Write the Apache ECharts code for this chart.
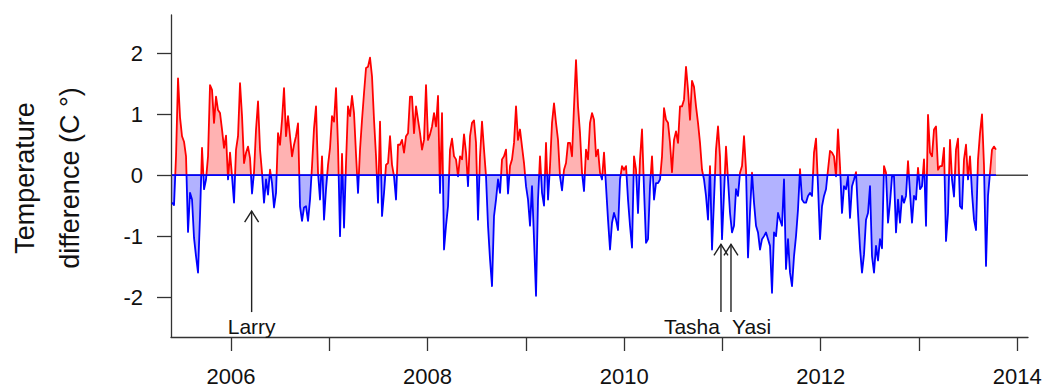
<!DOCTYPE html>
<html>
<head>
<meta charset="utf-8">
<script src="https://cdn.jsdelivr.net/npm/echarts@6/dist/echarts.min.js"></script>
<style>
html,body{margin:0;padding:0;background:#ffffff;}
#chart{width:1045px;height:387px;}
</style>
</head>
<body>
<div id="chart"></div>
<script>
// ---- data ----
// regularly sampled series: first sample time (decimal year) and sampling interval (years)
const sampleStart = 2005.400;
const sampleStep = 0.020348;

// temperature difference (C) at each sample
const anomaly = [
  // 2005.4 - 2006.7
  -0.45,-0.49,0.31,1.59,0.95,0.64,0.55,0.31,-0.93,-0.29,
  -0.40,-1.03,-1.33,-1.60,-0.67,0.45,-0.23,-0.07,0.31,1.48,
  1.40,0.86,1.29,1.07,1.02,0.75,0.45,0.65,-0.07,0.37,
  -0.02,-0.45,0.42,0.64,1.51,0.97,0.20,0.37,0.47,0.28,
  -0.30,0.05,0.75,1.21,0.42,0.04,-0.45,-0.07,-0.32,0.09,
  -0.13,-0.53,-0.29,0.69,0.50,0.91,1.43,0.64,0.97,0.64,
  0.31,0.50,0.64,0.85,
  // 2006.7 - 2008.1
  -0.51,-0.75,-0.53,-0.51,-0.75,-0.40,0.15,0.77,1.13,0.04,
  -0.40,0.31,-0.73,-0.23,0.17,0.45,0.97,0.88,1.43,0.47,
  -1.00,0.35,-0.86,0.20,1.13,0.97,1.30,1.02,0.34,-0.29,
  0.42,0.91,1.35,1.76,1.78,1.93,1.62,0.91,0.31,-0.45,
  0.88,-0.67,-0.29,0.17,0.20,0.64,0.17,-0.02,-0.40,0.50,
  0.50,0.58,0.37,0.64,0.69,1.29,1.29,0.69,1.13,0.91,
  0.69,0.42,0.58,1.48,0.58,0.67,0.80,1.02,0.80,1.30,
  // 2008.1 - 2009.5
  -0.29,1.02,-1.22,-0.83,-0.51,0.42,0.60,0.31,0.26,-0.02,
  0.31,0.26,0.67,0.37,-0.18,0.64,0.86,0.90,0.53,-0.73,
  0.31,0.88,0.42,-0.02,-0.83,-1.38,-1.82,-0.67,-0.40,-0.07,
  -0.29,0.26,0.31,0.42,-0.30,0.15,0.26,0.53,1.13,0.58,
  0.75,0.47,0.20,-0.18,-0.40,-0.83,-0.18,-1.05,-1.98,-0.40,
  0.31,-0.29,-0.50,0.53,-0.40,0.15,0.86,1.18,0.86,0.58,
  -0.02,-0.25,0.09,0.20,0.53,0.53,0.31,1.13,1.89,1.13,
  // 2009.5 - 2011.0
  0.69,0.04,-0.26,0.42,0.26,0.86,1.02,0.91,0.31,0.42,
  0.04,-0.07,0.37,-0.18,-0.73,-1.22,-0.78,-0.62,-0.73,-0.90,
  -0.07,0.15,0.09,0.15,-0.40,-0.83,-1.19,0.31,0.09,-0.62,
  0.26,0.75,-0.23,-1.11,-1.05,-0.18,0.31,-0.40,-0.13,-0.13,
  -0.07,0.31,1.10,0.91,0.86,0.53,0.05,0.58,0.72,0.53,
  1.13,1.13,1.24,1.78,1.40,0.91,1.55,1.45,1.13,0.86,
  0.53,0.09,-0.07,-0.34,-0.73,0.15,-1.22,-0.40,0.42,0.80,
  // 2011.0 - 2012.4
  0.30,-1.05,-0.30,0.47,-0.07,-0.62,-0.94,-0.83,-0.23,-0.34,
  0.04,0.15,0.64,0.09,-1.35,-0.60,0.04,-0.45,-0.83,-0.94,
  -1.22,-1.05,-1.00,-0.94,-1.05,-1.16,-1.93,-0.94,-1.00,-0.62,
  -0.73,-0.83,-0.07,-1.54,-1.05,-1.60,-1.82,-1.33,-1.00,-0.56,
  0.10,-0.40,-0.45,-0.45,-0.34,-0.29,-0.34,0.37,0.60,-0.18,
  -1.05,-0.51,-0.34,-0.23,0.09,0.40,0.37,0.31,-0.02,0.75,
  0.15,-0.62,-0.18,-0.23,-0.02,-0.70,-0.18,-0.07,0.05,-0.62,
  // 2012.4 - 2013.8
  -1.20,-1.60,-1.30,-0.73,-0.62,-0.18,-1.33,-1.60,-1.16,-1.40,
  -1.05,-1.20,0.15,0.04,-0.78,-0.45,-0.02,-0.02,-0.94,-0.40,
  -0.78,-0.34,-0.45,-0.34,0.23,-0.29,-0.78,-0.34,-0.40,0.12,
  -0.23,-0.18,0.26,-0.83,0.99,0.37,0.31,0.75,0.80,0.09,
  0.15,0.15,0.45,-1.08,-0.62,0.58,-0.07,-0.35,0.42,0.60,
  -0.51,-0.55,0.26,0.50,-0.07,0.31,-0.29,-0.73,-0.90,0.26,
  0.69,1.00,0.15,-1.49,-0.34,0.04,0.42,0.47,0.42
];

// axis ticks / labels
const xTickYears = [2006, 2007, 2008, 2009, 2010, 2011, 2012, 2013, 2014];
const xLabelYears = [2006, 2008, 2010, 2012, 2014];
const yTicks = [-2, -1, 0, 1, 2];
const xRange = [2005.3896, 2014.1089];
const yRange = [-2.656, 2.63];

// cyclone annotations
const stormNames = ['Larry', 'Tasha', 'Yasi'];
const stormYears = [2006.21, 2010.985, 2011.087];
const stormArrowTip = [-0.59, -1.134, -1.134];
const stormArrowBase = [-2.247, -2.247, -2.247];
const stormLabelY = [-2.485, -2.485, -2.485];
const stormLabelAlign = ['center', 'right', 'left'];

const yTitleLines = ['Temperature', 'difference (C \u00B0)'];

// ---- build chart ----
const FONT = '"Liberation Sans", Arial, Helvetica, sans-serif';
const seriesData = anomaly.map((v, i) => [sampleStart + i * sampleStep, v]);
const lastYear = sampleStart + (anomaly.length - 1) * sampleStep;
const stormData = stormYears.map((y, i) => [y, stormArrowTip[i], stormArrowBase[i], stormLabelY[i]]);

const chart = echarts.init(document.getElementById('chart'), null, {renderer: 'svg'});

chart.setOption({
  animation: false,
  backgroundColor: '#ffffff',
  grid: {left: 171, right: 17, top: 15, bottom: 49, containLabel: false},
  xAxis: {
    type: 'value',
    min: xRange[0], max: xRange[1],
    axisLine: {show: true, onZero: false, lineStyle: {color: '#333333', width: 1.3}},
    axisTick: {show: true, inside: false, length: 14, customValues: xTickYears, lineStyle: {color: '#333333', width: 1.3}},
    axisLabel: {show: true, customValues: xLabelYears, margin: 28, fontSize: 22, fontFamily: FONT, color: '#111111',
                formatter: function (v) { return String(Math.round(v)); }},
    splitLine: {show: false}
  },
  yAxis: {
    type: 'value',
    min: yRange[0], max: yRange[1],
    axisLine: {show: true, onZero: false, lineStyle: {color: '#333333', width: 1.3}},
    axisTick: {show: true, inside: false, length: 14, customValues: yTicks, lineStyle: {color: '#333333', width: 1.3}},
    axisLabel: {show: true, customValues: yTicks, margin: 28, fontSize: 22, fontFamily: FONT, color: '#111111',
                formatter: function (v) { return String(Math.round(v)); }},
    splitLine: {show: false}
  },
  visualMap: {
    show: false,
    type: 'piecewise',
    seriesIndex: 1,
    dimension: 1,
    pieces: [
      {gte: -5, lt: 0, color: '#0000ff'},
      {gte: 0, lte: 5, color: '#ff0000'}
    ],
    outOfRange: {color: '#0000ff'}
  },
  graphic: yTitleLines.map((t, i) => ({
    type: 'text',
    x: i === 0 ? 25 : 70,
    y: 178,
    rotation: Math.PI / 2,
    style: {
      text: t,
      align: 'center', verticalAlign: 'middle',
      textAlign: 'center', textVerticalAlign: 'middle',
      font: '27px ' + FONT,
      fill: '#111111'
    }
  })),
  series: [
    {
      // zero reference line across the whole panel
      type: 'line',
      data: [[xRange[0], 0], [xRange[1], 0]],
      showSymbol: false,
      silent: true,
      z: 1,
      lineStyle: {color: '#444444', width: 1.5},
      itemStyle: {color: '#444444'}
    },
    {
      type: 'line',
      data: seriesData,
      showSymbol: false,
      smooth: false,
      z: 2,
      lineStyle: {width: 1.8, join: 'round'},
      areaStyle: {opacity: 0.3, origin: 0}
    },
    {
      // blue baseline under the data span
      type: 'line',
      data: [[sampleStart, 0], [lastYear, 0]],
      showSymbol: false,
      silent: true,
      z: 3,
      lineStyle: {color: '#0000ff', width: 1.8},
      itemStyle: {color: '#0000ff'}
    },
    {
      type: 'custom',
      coordinateSystem: 'cartesian2d',
      xAxisIndex: 0,
      yAxisIndex: 0,
      z: 4,
      clip: false,
      silent: true,
      data: stormData,
      renderItem: function (params, api) {
        const i = params.dataIndex;
        const x = api.value(0);
        const tip = api.coord([x, api.value(1)]);
        const base = api.coord([x, api.value(2)]);
        const lab = api.coord([x, api.value(3)]);
        const stroke = '#222222';
        const align = stormLabelAlign[i];
        const dx = align === 'left' ? 1 : (align === 'right' ? -1 : 0);
        return {
          type: 'group',
          children: [
            {type: 'line', shape: {x1: base[0], y1: base[1], x2: tip[0], y2: tip[1]},
             style: {stroke: stroke, lineWidth: 1.4}},
            {type: 'polyline', shape: {points: [[tip[0] - 7, tip[1] + 11], [tip[0], tip[1]], [tip[0] + 7, tip[1] + 11]]},
             style: {stroke: stroke, fill: null, lineWidth: 1.4}},
            {type: 'text', x: lab[0] + dx, y: lab[1],
             style: {text: stormNames[i], align: align, verticalAlign: 'middle',
                     fontSize: 21, fontFamily: FONT, fill: '#111111'}}
          ]
        };
      }
    }
  ]
});
</script>
</body>
</html>
